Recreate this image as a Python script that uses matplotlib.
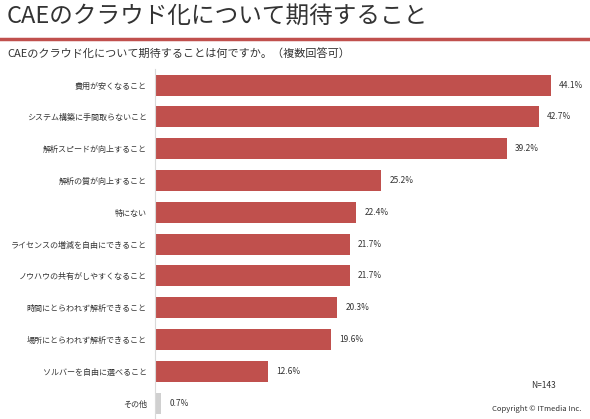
import matplotlib.pyplot as plt

plt.rcParams['font.family'] = ['Noto Sans CJK JP', 'DejaVu Sans']

labels = ["費用が安くなること", "システム構築に手間取らないこと", "解析スピードが向上すること",
          "解析の質が向上すること", "特にない", "ライセンスの増減を自由にできること",
          "ノウハウの共有がしやすくなること", "時間にとらわれず解析できること",
          "場所にとらわれず解析できること", "ソルバーを自由に選べること", "その他"]
values = [44.1, 42.7, 39.2, 25.2, 22.4, 21.7, 21.7, 20.3, 19.6, 12.6, 0.7]

RED = "#c0504d"
GREY = "#d0d0d0"

fig = plt.figure(figsize=(5.9, 4.19), dpi=100)
fig.text(0.012, 0.96, "CAEのクラウド化について期待すること", fontsize=17,
         color="#333333", va="center")
fig.add_artist(plt.Line2D([0, 1], [0.908, 0.908], color=RED, lw=2.5))
fig.text(0.012, 0.87, "CAEのクラウド化について期待することは何ですか。（複数回答可）",
         fontsize=8, color="#333333", va="center")

ax = fig.add_axes([0.263, 0.0, 0.735, 0.835])
y = list(range(len(labels)))
colors = [RED] * (len(values) - 1) + [GREY]
ax.barh(y, values, height=0.66, color=colors)
for yi, v in zip(y, values):
    ax.text(v + 0.9, yi, f"{v}%", va="center", fontsize=6, color="#333333")
ax.set_yticks(y)
ax.set_yticklabels(labels, fontsize=5.8, color="#333333")
ax.tick_params(axis="y", length=0, pad=6)
ax.set_xticks([])
ax.set_xlim(0, 48.3)
ax.set_ylim(len(labels) - 0.5, -0.5)
for s in ["top", "right", "bottom"]:
    ax.spines[s].set_visible(False)
ax.spines["left"].set_color("#d9d9d9")

fig.text(0.9, 0.075, "N=143", fontsize=6, color="#333333")
fig.text(0.985, 0.02, "Copyright © ITmedia Inc.", fontsize=5.5, color="#333333", ha="right")

fig.savefig("out.png", dpi=100)
